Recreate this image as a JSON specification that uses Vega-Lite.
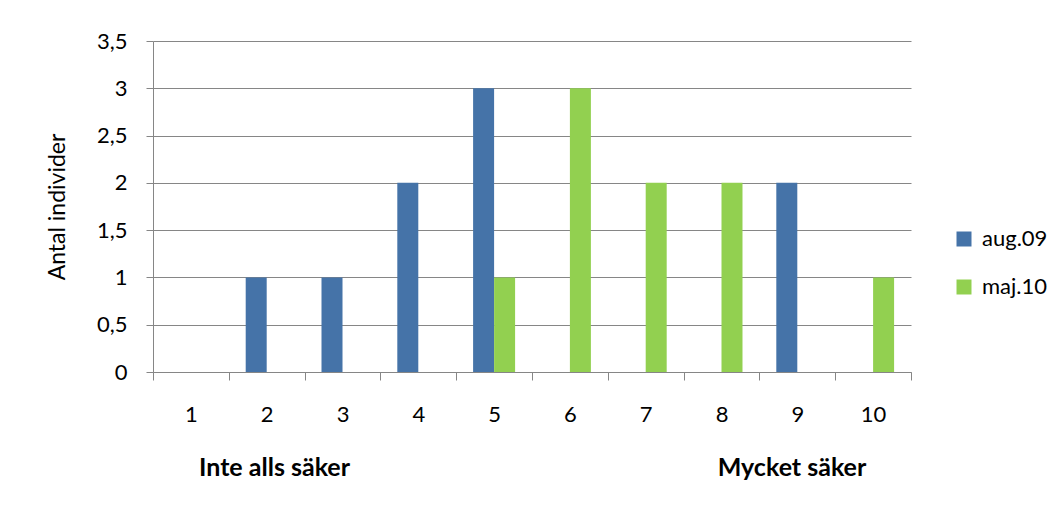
{
  "$schema": "https://vega.github.io/schema/vega-lite/v6.json",
  "width": 758,
  "height": 331,
  "autosize": {"type": "none"},
  "padding": {"left": 153, "top": 41, "right": 151, "bottom": 136},
  "background": "white",
  "config": {
    "font": "Lato",
    "view": {"stroke": null}
  },
  "data": {
    "values": [
      {"cat": "1", "series": "aug.09", "n": 0},
      {"cat": "1", "series": "maj.10", "n": 0},
      {"cat": "2", "series": "aug.09", "n": 1},
      {"cat": "2", "series": "maj.10", "n": 0},
      {"cat": "3", "series": "aug.09", "n": 1},
      {"cat": "3", "series": "maj.10", "n": 0},
      {"cat": "4", "series": "aug.09", "n": 2},
      {"cat": "4", "series": "maj.10", "n": 0},
      {"cat": "5", "series": "aug.09", "n": 3},
      {"cat": "5", "series": "maj.10", "n": 1},
      {"cat": "6", "series": "aug.09", "n": 0},
      {"cat": "6", "series": "maj.10", "n": 3},
      {"cat": "7", "series": "aug.09", "n": 0},
      {"cat": "7", "series": "maj.10", "n": 2},
      {"cat": "8", "series": "aug.09", "n": 0},
      {"cat": "8", "series": "maj.10", "n": 2},
      {"cat": "9", "series": "aug.09", "n": 2},
      {"cat": "9", "series": "maj.10", "n": 0},
      {"cat": "10", "series": "aug.09", "n": 0},
      {"cat": "10", "series": "maj.10", "n": 1}
    ]
  },
  "mark": {"type": "bar"},
  "encoding": {
    "x": {
      "field": "cat",
      "type": "ordinal",
      "sort": null,
      "scale": {"paddingInner": 0, "paddingOuter": 0},
      "axis": {
        "tickBand": "extent",
        "grid": false,
        "domainColor": "#868686",
        "tickColor": "#868686",
        "tickSize": 8,
        "labelAngle": 0,
        "labelBaseline": "middle",
        "labelPadding": 34,
        "labelFontSize": 22,
        "labelColor": "black",
        "title": "Inte alls säker",
        "titleFontSize": 25,
        "titleFontWeight": "bold",
        "titleColor": "black",
        "titleX": 121,
        "titleY": 95,
        "titleBaseline": "middle",
        "titleAlign": "center"
      }
    },
    "xOffset": {
      "field": "series",
      "type": "nominal",
      "scale": {"paddingInner": 0, "paddingOuter": 0.805}
    },
    "y": {
      "field": "n",
      "type": "quantitative",
      "scale": {"domain": [0, 3.5]},
      "axis": {
        "values": [0, 0.5, 1, 1.5, 2, 2.5, 3, 3.5],
        "labelExpr": "replace(toString(datum.value), '.', ',')",
        "grid": true,
        "gridColor": "#868686",
        "domainColor": "#868686",
        "tickColor": "#868686",
        "tickSize": 7,
        "labelPadding": 19,
        "labelFontSize": 22,
        "labelColor": "black",
        "title": "Antal individer",
        "titleFontSize": 23,
        "titleFontWeight": "normal",
        "titleColor": "black",
        "titleX": -96,
        "titleY": 165.5,
        "titleBaseline": "middle",
        "titleAlign": "center"
      }
    },
    "color": {
      "field": "series",
      "type": "nominal",
      "scale": {"domain": ["aug.09", "maj.10"], "range": ["#4573A8", "#92D050"]},
      "legend": {
        "title": null,
        "orient": "none",
        "legendX": 800,
        "legendY": 187,
        "padding": 0,
        "symbolType": "square",
        "symbolSize": 225,
        "symbolStrokeWidth": 0,
        "labelFontSize": 22,
        "labelColor": "black",
        "labelOffset": 7,
        "rowPadding": 26
      }
    }
  },
  "title": {
    "text": "Mycket säker",
    "orient": "bottom",
    "anchor": "start",
    "frame": "group",
    "align": "center",
    "dx": 639,
    "dy": -24,
    "offset": 0,
    "fontSize": 25,
    "fontWeight": "bold",
    "color": "black"
  }
}
